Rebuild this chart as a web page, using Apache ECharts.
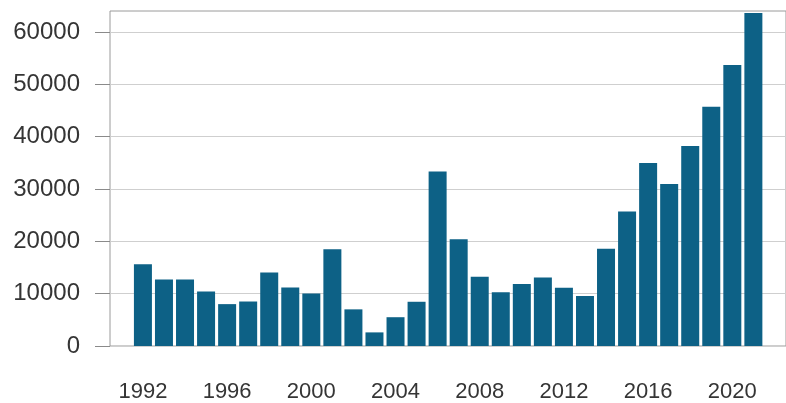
<!DOCTYPE html>
<html>
<head>
<meta charset="utf-8">
<script src="https://cdn.jsdelivr.net/npm/echarts@6/dist/echarts.min.js"></script>
<style>
html,body{margin:0;padding:0;background:#fff;}
#chart{width:786px;height:403px;}
</style>
</head>
<body>
<div id="chart"></div>
<script>
const years = [1992,1993,1994,1995,1996,1997,1998,1999,2000,2001,2002,2003,2004,2005,2006,2007,2008,2009,2010,2011,2012,2013,2014,2015,2016,2017,2018,2019,2020,2021];
const values = [15600,12700,12700,10400,8000,8500,14050,11200,10050,18500,7000,2600,5500,8450,33350,20400,13250,10250,11850,13100,11150,9550,18600,25700,34950,30950,38200,45700,53700,63600];
const xTickLabels = [1992,1996,2000,2004,2008,2012,2016,2020];
const yTickLabels = [0,10000,20000,30000,40000,50000,60000];

const chart = echarts.init(document.getElementById('chart'), null, {renderer:'canvas'});
chart.setOption({
  animation:false,
  grid:{left:110, top:11, right:-2, bottom:55, show:true, borderColor:'#9a9a9a', borderWidth:1, backgroundColor:'transparent'},
  xAxis:{
    type:'value', min:1990.436, max:2022.55,
    axisLine:{show:false}, axisTick:{show:false}, splitLine:{show:false},
    axisLabel:{customValues:xTickLabels, formatter:v=>String(v), margin:35, fontSize:22, color:'#353535', fontFamily:'Liberation Sans, Arial, sans-serif'}
  },
  yAxis:{
    type:'value', min:0, max:64000, interval:10000,
    axisLine:{show:false},
    axisTick:{show:true, length:15, customValues:yTickLabels, lineStyle:{color:'#8a8a8a', width:1}},
    splitLine:{show:true, lineStyle:{color:'#cfcfcf', width:1}},
    axisLabel:{customValues:yTickLabels, formatter:v=>String(v), margin:30, fontSize:24, color:'#353535', fontFamily:'Liberation Sans, Arial, sans-serif'}
  },
  series:[{
    type:'bar',
    data: years.map((y,i)=>[y, values[i]]),
    barWidth:18,
    itemStyle:{color:'#0d6186'}
  }]
});
</script>
</body>
</html>
